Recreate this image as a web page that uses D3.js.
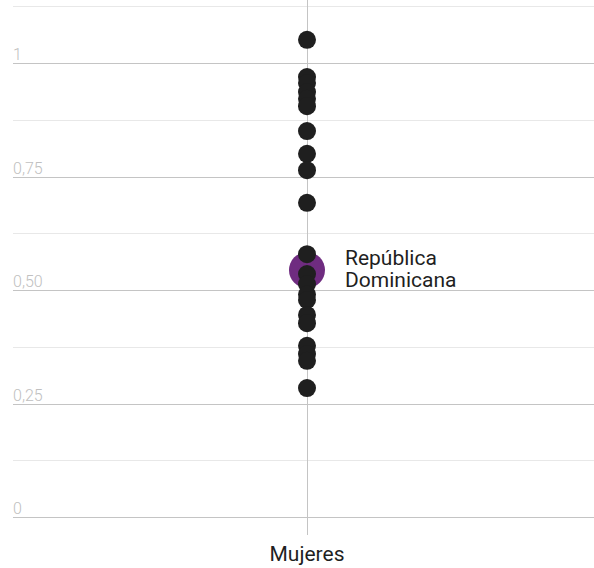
<!DOCTYPE html>
<html><head><meta charset="utf-8">
<script src="https://cdn.jsdelivr.net/npm/d3@7"></script>
<style>body{margin:0;background:#fff;}svg{display:block;font-family:Roboto,"Noto Sans",sans-serif;}</style>
</head><body>
<svg id="c" width="594" height="568"></svg>
<script>
const category = "Mujeres";
const values = [1.051, 0.969, 0.956, 0.936, 0.921, 0.905, 0.850, 0.800, 0.764, 0.692,
  0.579, 0.535, 0.513, 0.490, 0.478, 0.445, 0.427, 0.377, 0.359, 0.344, 0.284];
const highlightName = ["República", "Dominicana"];
const highlightValue = 0.544;
const majorTicks = [0, 0.25, 0.5, 0.75, 1];
const majorLabels = ["0", "0,25", "0,50", "0,75", "1"];
const minorTicks = [0.125, 0.375, 0.625, 0.875, 1.125];

const svg = d3.select("#c");
const y = d3.scaleLinear().domain([0, 1]).range([517, 63]);
const x = d3.scalePoint().domain([category]).range([307, 307]);
const left = 13, right = 594;

svg.selectAll("line.minor").data(minorTicks).join("line")
  .attr("x1", left).attr("x2", right)
  .attr("y1", d => Math.round(y(d)) + 0.5).attr("y2", d => Math.round(y(d)) + 0.5)
  .attr("stroke", "#e8e8e8").attr("stroke-width", 1);
svg.selectAll("line.major").data(majorTicks).join("line")
  .attr("x1", left).attr("x2", right)
  .attr("y1", d => Math.round(y(d)) + 0.5).attr("y2", d => Math.round(y(d)) + 0.5)
  .attr("stroke", "#c4c4c4").attr("stroke-width", 1);
svg.selectAll("text.tick").data(majorTicks).join("text")
  .attr("x", left).attr("y", d => y(d) - 3)
  .attr("fill", "#c0c0c0").attr("font-size", 16).attr("font-weight", 300)
  .text((d, i) => majorLabels[i]);

svg.append("line").attr("x1", x(category) + 0.5).attr("x2", x(category) + 0.5)
  .attr("y1", 0).attr("y2", 535).attr("stroke", "#c4c4c4").attr("stroke-width", 1);

svg.append("circle").attr("cx", x(category)).attr("cy", y(highlightValue))
  .attr("r", 18).attr("fill", "#6f2c80");

svg.selectAll("circle.dot").data(values).join("circle")
  .attr("cx", x(category)).attr("cy", d => y(d)).attr("r", 9).attr("fill", "#1f1f1f");

svg.selectAll("text.hl").data(highlightName).join("text")
  .attr("x", 345).attr("y", (d, i) => 265 + i * 22)
  .attr("fill", "#1f1f1f").attr("font-size", 21).attr("font-weight", 400)
  .text(d => d);

svg.append("text").attr("x", x(category)).attr("y", 561).attr("text-anchor", "middle")
  .attr("fill", "#1f1f1f").attr("font-size", 21).attr("font-weight", 400).text(category);
</script>
</body></html>
